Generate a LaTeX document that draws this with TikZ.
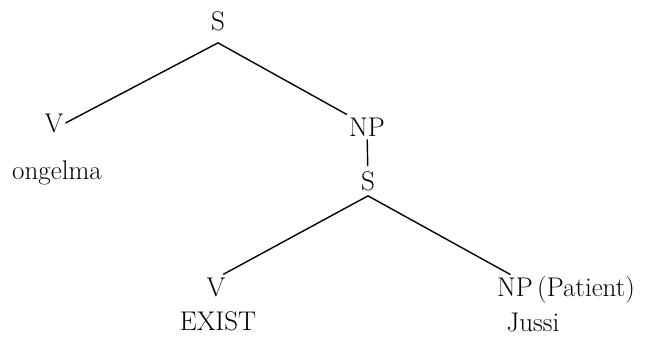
\documentclass[tikz,border=0pt]{standalone}
\usepackage{tikz}
\usetikzlibrary{positioning}

\begin{document}
\begin{tikzpicture}[
  x=1pt, y=-1pt,
  every node/.style={font=\fontsize{27}{32}\selectfont},
  cat/.style={inner xsep=2pt, inner ysep=3pt},
  word/.style={inner sep=2pt},
  branch/.style={line width=1.4pt}
]
  \useasboundingbox (0,0) rectangle (646,338);

  % Upper clause
  \node[cat, inner ysep=12pt] (s0) at (218,21) {S};
  \node[cat] (v1) at (54,123) {V};
  \node[word] (ongelma) at (57,173) {ongelma};
  \node[cat] (np1) at (367,127) {NP};

  % Embedded clause
  \node[cat, inner ysep=5pt] (s1) at (368,181) {S};
  \node[cat] (v2) at (216,287) {V};
  \node[word] (exist) at (218,321) {EXIST};
  \node[cat] (np2) at (515,287) {NP};
  \node[word, base right=0pt of np2] (pat) {(Patient)};
  \node[word] (jussi) at (533,322) {Jussi};

  % Branches
  \draw[branch] (s0.south) -- (v1.east);
  \draw[branch] (s0.south) -- (np1.north west);
  \draw[branch] (np1) -- (s1);
  \draw[branch] (s1.south) -- (v2.60);
  \draw[branch] (s1.south) -- (np2.110);

\end{tikzpicture}
\end{document}
